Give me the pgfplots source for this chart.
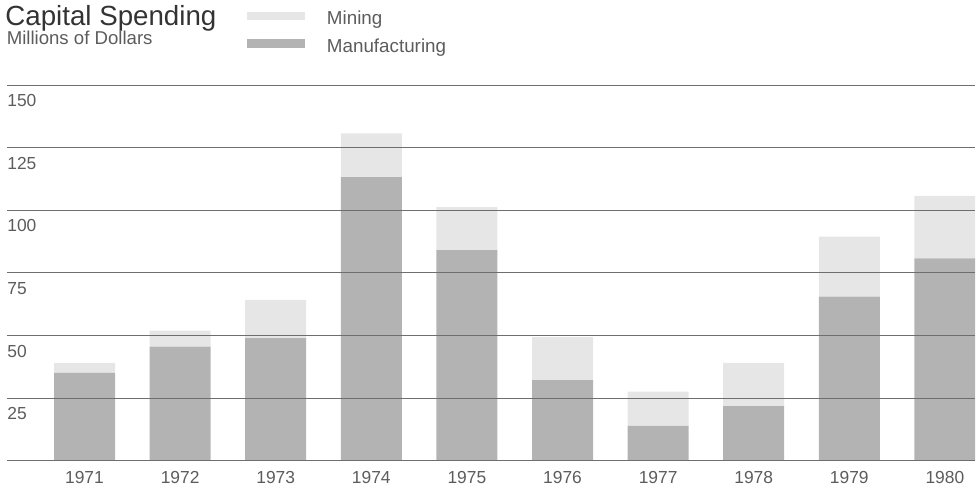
\documentclass[border=0pt]{standalone}
\usepackage{pgfplots}
\pgfplotsset{compat=1.18}
\usepackage{fontspec}
\setmainfont{Liberation Sans}

\definecolor{mfg}{HTML}{B3B3B3}
\definecolor{mine}{HTML}{E6E6E6}
\definecolor{gridc}{HTML}{6E6E6E}
\definecolor{ink}{HTML}{333333}

\begin{document}
\begin{tikzpicture}
% overall frame of the figure (axis box starts at the origin)
\path[use as bounding box] (-3.5pt,-19.15pt) rectangle (485.5pt,230.35pt);
\begin{axis}[
  at={(0pt,0pt)}, anchor=south west,
  scale only axis, width=484pt, height=187.85pt,
  xmin=-0.8107, xmax=9.315, ymin=0, ymax=150,
  ybar stacked, bar width=30.5pt,
  xtick={0,...,9},
  xticklabels={1971,1972,1973,1974,1975,1976,1977,1978,1979,1980},
  ytick={0,25,50,75,100,125,150},
  yticklabels={,25,50,75,100,125,150},
  major tick length=0pt,
  axis line style={draw=none},
  ymajorgrids, grid style={gridc, line width=0.5pt},
  axis on top,
  /pgf/number format/assume math mode=true,
  tick label style={font=\fontsize{8.7}{10}\selectfont, text=ink!80, inner sep=0pt},
  xticklabel style={anchor=north, yshift=-5pt},
  yticklabel style={anchor=north west, yshift=-4.5pt},
  reverse legend,
  legend cell align=left,
  legend style={at={(axis description cs:0.2479,1.1964)}, anchor=north west,
    draw=none, fill=none, inner sep=0pt, outer sep=0pt,
    row sep=5.3pt, column sep=0pt,
    font=\fontsize{9.4}{11}\selectfont, text=ink!80,
    nodes={inner sep=0pt, outer sep=0pt}},
  legend image code/.code={\fill[#1] (0pt,-0.4pt) rectangle (29pt,4pt);
    \path (40pt,0pt);},
]
\addplot[fill=mfg, draw=none] coordinates {
  (0,35.1) (1,45.5) (2,48.9) (3,113.2) (4,84.1)
  (5,32.2) (6,13.9) (7,21.8) (8,65.5) (9,80.8)};
\addlegendentry{Manufacturing}
\addplot[fill=mine, draw=none] coordinates {
  (0,4.0) (1,6.4) (2,15.3) (3,17.5) (4,17.1)
  (5,17.1) (6,13.7) (7,17.3) (8,24.0) (9,24.9)};
\addlegendentry{Mining}
\end{axis}
\node[anchor=base west, inner sep=0pt, font=\fontsize{13.85}{16}\selectfont, text=ink]
  at (-1pt,217.35pt) {Capital Spending};
\node[anchor=base west, inner sep=0pt, font=\fontsize{9.3}{11}\selectfont, text=ink!80]
  at (-0.3pt,207.85pt) {Millions of Dollars};
\end{tikzpicture}
\end{document}
